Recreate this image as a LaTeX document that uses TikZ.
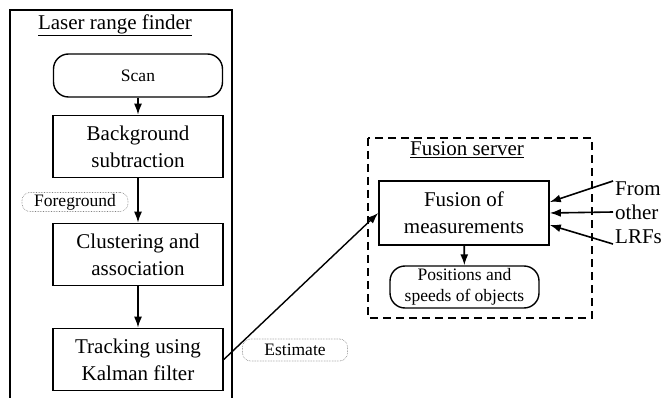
\documentclass[tikz,border=0pt]{standalone}
\usepackage{fontspec}
\setmainfont{Liberation Serif}
\usetikzlibrary{arrows.meta,positioning}

\begin{document}
\begin{tikzpicture}[x=1pt,y=-1pt,font=\fontsize{21}{27}\selectfont, >={Latex[length=11pt,width=8pt]}]
      \tikzstyle{step box}=[draw,line width=1.6pt,minimum width=170,minimum height=62,align=center,inner sep=0]
      \tikzstyle{end box}=[draw,line width=1.4pt,rounded corners=15pt,align=center,inner sep=0,font=\fontsize{17.5}{21}\selectfont]
      \tikzstyle{tag box}=[draw=gray,densely dotted,line width=0.6pt,rounded corners=8pt,minimum height=19,inner sep=0,font=\fontsize{17.5}{21}\selectfont]
      \tikzstyle{flow}=[->,line width=1.6pt]

      \useasboundingbox (0,0) rectangle (664,398);

      % laser range finder
      \draw[line width=1.8pt] (10,398) -- (10,10) -- (232,10) -- (232,398);
      \node(lrf) at (115,25) {\underline{Laser range finder}};
      \node(scan)[end box,minimum width=169,minimum height=43] at (138,75.5) {Scan};
      \node(bg)[step box] at (138,146.5) {Background\\subtraction};
      \node(clus)[step box] at (138,254.5) {Clustering and\\association};
      \node(track)[step box] at (138,359.5) {Tracking using\\Kalman filter};
      \node(fg)[tag box,minimum width=106] at (75,202) {Foreground};

      \draw[flow] (scan) -- (bg);
      \draw[flow] (bg) -- (clus);
      \draw[flow] (clus) -- (track);

      % fusion server
      \draw[line width=1.8pt,dash pattern=on 8pt off 5pt] (368,138) rectangle (592,318);
      \node(srv) at (467,150) {\underline{Fusion server}};
      \node(fus)[step box,minimum height=64] at (464,213) {Fusion of\\measurements};
      \node(pos)[end box,minimum width=149,minimum height=42] at (464.5,287) {Positions and\\speeds of objects};
      \node(lrfs)[anchor=west,align=left,inner sep=0,font=\fontsize{21}{24}\selectfont] at (615,213) {From\\other\\LRFs};
      \coordinate(o1) at (613,181);
      \coordinate(o2) at (613,212);
      \coordinate(o3) at (613,244);

      \draw[flow] (fus) -- (pos);
      \draw[flow] (o1) -- ([yshift=11]fus.east);
      \draw[flow] (o2) -- (fus.east);
      \draw[flow] (o3) -- ([yshift=-12]fus.east);

      \draw[flow,line width=1.4pt] (track.east) -- (fus.west);
      \node(est)[tag box,minimum width=105,minimum height=22] at (295,350) {Estimate};
\end{tikzpicture}
\end{document}
